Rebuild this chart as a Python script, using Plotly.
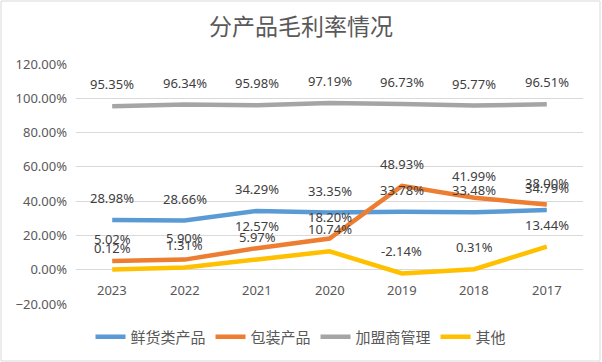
import plotly.graph_objects as go

categories = ["2023", "2022", "2021", "2020", "2019", "2018", "2017"]
fresh = [28.98, 28.66, 34.29, 33.35, 33.78, 33.48, 34.79]
packaged = [5.02, 5.90, 12.57, 18.20, 48.93, 41.99, 38.00]
franchise = [95.35, 96.34, 95.98, 97.19, 96.73, 95.77, 96.51]
other = [0.12, 1.31, 5.97, 10.74, -2.14, 0.31, 13.44]

series = [
    ("鲜货类产品", fresh, "#5B9BD5"),
    ("包装产品", packaged, "#ED7D31"),
    ("加盟商管理", franchise, "#A5A5A5"),
    ("其他", other, "#FFC000"),
]

FONT = "Noto Sans, Noto Sans CJK SC, sans-serif"

fig = go.Figure()
annotations = []
for name, vals, color in series:
    ys = [v / 100 for v in vals]
    fig.add_trace(go.Scatter(
        x=categories, y=ys, name=name, mode="lines",
        line=dict(color=color, width=4.5),
    ))
    for i, v in enumerate(vals):
        annotations.append(dict(
            x=i, y=v / 100, xref="x", yref="y", text=f"{v:.2f}%",
            showarrow=False, yshift=22, yanchor="middle",
            font=dict(family=FONT, size=13, color="#404040"),
        ))

for i, c in enumerate(categories):
    annotations.append(dict(
        x=i, y=0, xref="x", yref="y", text=c, showarrow=False,
        yshift=-20, yanchor="middle",
        font=dict(family=FONT, size=13, color="#595959"),
    ))

fig.update_layout(
    width=602, height=362,
    margin=dict(l=76, r=19, t=64, b=58, autoexpand=False),
    paper_bgcolor="white", plot_bgcolor="white",
    title=dict(text="分产品毛利率情况", x=0.5, xref="container", xanchor="center",
               y=1 - 27 / 362, yref="container", yanchor="middle",
               font=dict(family="Noto Sans CJK SC", size=23, color="#595959")),
    xaxis=dict(type="category", range=[-0.5, 6.5], showticklabels=False,
               showgrid=False, zeroline=False, showline=False, automargin=False),
    yaxis=dict(range=[-0.2, 1.2], dtick=0.2, tick0=0, tickformat=".2%",
               showgrid=True, gridcolor="#D9D9D9", gridwidth=1,
               zeroline=True, zerolinecolor="#D9D9D9", zerolinewidth=1,
               showline=False, ticks="", ticklabelstandoff=8, automargin=False,
               tickfont=dict(family=FONT, size=13, color="#595959")),
    legend=dict(orientation="h", xref="container", yref="container",
                x=0.5, xanchor="center", y=1 - 337 / 362, yanchor="middle",
                font=dict(family=FONT, size=15, color="#595959"),
                bgcolor="rgba(0,0,0,0)"),
    annotations=annotations,
    shapes=[dict(type="rect", xref="paper", yref="paper",
                 x0=(1 - 76) / 507, x1=(600 - 76) / 507,
                 y0=(304 - 361) / 240, y1=(304 - 1) / 240,
                 line=dict(color="#D9D9D9", width=1), layer="below")],
)

fig.write_html("out.html",
               config={"displayModeBar": False},
               post_script="document.body.style.margin='0';document.body.style.overflow='hidden';")
